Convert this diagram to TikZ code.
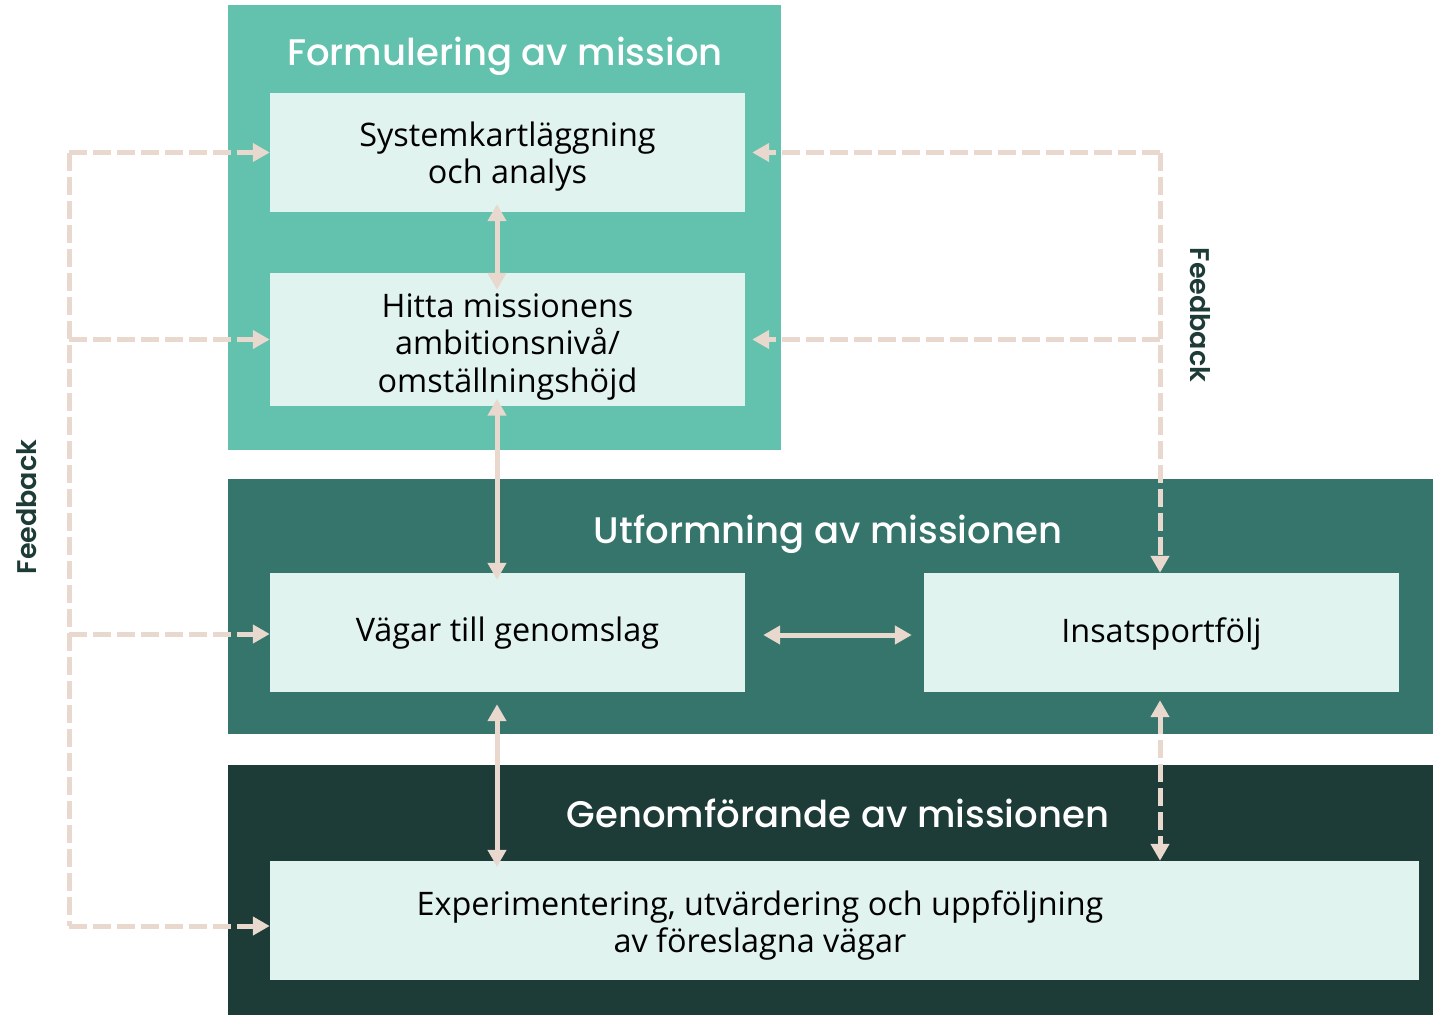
\documentclass[tikz,border=0pt]{standalone}
\usepackage{fontspec}
\setmainfont{Open Sans}
\newfontfamily\titlefont{Poppins}[UprightFont=* Medium]
\newfontfamily\fbfont{Poppins}[UprightFont=* SemiBold]
\usepackage{tikz}
\usetikzlibrary{
  arrows.meta,
  calc
}
\definecolor{formc}{HTML}{62C2AE}
\definecolor{utfc}{HTML}{36756B}
\definecolor{genc}{HTML}{1D3B37}
\definecolor{boxc}{HTML}{E0F3EE}
\definecolor{arrc}{HTML}{E8D8CE}
\tikzset{
  panel/.style={
    fill=#1,
    inner sep=0pt},
  stepbox/.style={
    fill=boxc,
    minimum width=475pt,
    minimum height=119pt,
    inner sep=0pt},
  steptext/.style={
    align=center,
    inner sep=0pt,
    font=\fontsize{32.4}{37.5}\selectfont},
  ptitle/.style={
    text=white,
    font=\titlefont\fontsize{37}{40}\selectfont},
  fb/.style={
    text=genc,
    font=\fbfont\fontsize{27}{30}\selectfont},
  arr/.style={
    draw=arrc,
    line width=5pt,
    {Triangle[length=17pt,width=18pt]}-{Triangle[length=17pt,width=18pt]}},
  dsh/.style={
    draw=arrc,
    line width=5pt,
    dash pattern=on 18pt off 6pt,
    -{Triangle[length=17pt,width=18pt]}},
  dshline/.style={
    draw=arrc,
    line width=5pt,
    dash pattern=on 18pt off 6pt}
  }

\begin{document}
\begin{tikzpicture}[x=1pt,y=-1pt]
		\useasboundingbox (0,0) rectangle (1433,1015);
		% panels
		\node [panel=formc, minimum width=553pt, minimum height=445pt] (p1) at (504.5,227.5) {};
		\node [panel=utfc, minimum width=1205pt, minimum height=255pt] (p2) at (830.5,606.5) {};
		\node [panel=genc, minimum width=1205pt, minimum height=250pt] (p3) at (830.5,890) {};
		\node [ptitle] (t1) at (505,56) {Formulering av mission};
		\node [ptitle] (t2) at (828,534) {Utformning av missionen};
		\node [ptitle] (t3) at (838,813) {Genomförande av missionen};
		% boxes
		\node [stepbox, label={[steptext, yshift=-4pt]center:Systemkartläggning\\och analys}] (sys) at (507.5,152.5) {};
		\node [stepbox, minimum height=133pt, label={[steptext, yshift=-7pt]center:Hitta missionens\\ambitionsnivå/\\omställningshöjd}] (hitta) at (507.5,339.5) {};
		\node [stepbox, label={[steptext, yshift=-1pt]center:Vägar till genomslag}] (vagar) at (507.5,632.5) {};
		\node [stepbox, label={[steptext, yshift=-1pt]center:Insatsportfölj}] (insats) at (1161.5,632.5) {};
		\node [stepbox, minimum width=1149pt] (exp) at (844.5,920.5) {};
		\node [steptext] (exptxt) at (760,925.5) {Experimentering, utvärdering och uppföljning\\av föreslagna vägar};
		% helper columns
		\coordinate (lx) at (497,0);
		\coordinate (rx) at (1160,0);
		\coordinate (fl) at (69,0);
		% solid links
		\draw [arr, shorten <=-8pt, shorten >=-17pt] (sys.south -| lx) to (hitta.north -| lx);
		\draw [arr, shorten <=-7.5pt, shorten >=-7pt] (hitta.south -| lx) to (vagar.north -| lx);
		\draw [arr, shorten <=12pt, shorten >=-6pt] (vagar.south -| lx) to (exp.north -| lx);
		\draw [arr, shorten <=18pt, shorten >=12pt] ([yshift=-2.5pt]vagar.east) to ([yshift=-2.5pt]insats.west);
		\draw [arr, dash pattern=on 18pt off 6pt, shorten <=8pt] (insats.south -| rx) to (exp.north -| rx);
		% left feedback
		\draw [dshline] (sys.west -| fl) to ([yshift=-5.5pt]exp.west -| fl);
		\draw [dsh] (sys.west -| fl) to (sys.west);
		\draw [dsh] (hitta.west -| fl) to (hitta.west);
		\draw [dsh] ([yshift=-1.5pt]vagar.west -| fl) to ([yshift=-1.5pt]vagar.west);
		\draw [dsh] ([yshift=-5.5pt]exp.west -| fl) to ([yshift=-5.5pt]exp.west);
		\node [fb, rotate=90] (fbl) at (27,507) {Feedback};
		% right feedback
		\draw [dsh] (sys.east -| rx) to (insats.north -| rx);
		\draw [dsh, shorten >=7pt] (sys.east -| rx) to (sys.east);
		\draw [dsh, shorten >=7pt] (hitta.east -| rx) to (hitta.east);
		\node [fb, rotate=-90] (fbr) at (1200,315) {Feedback};
	\end{tikzpicture}
\end{document}
